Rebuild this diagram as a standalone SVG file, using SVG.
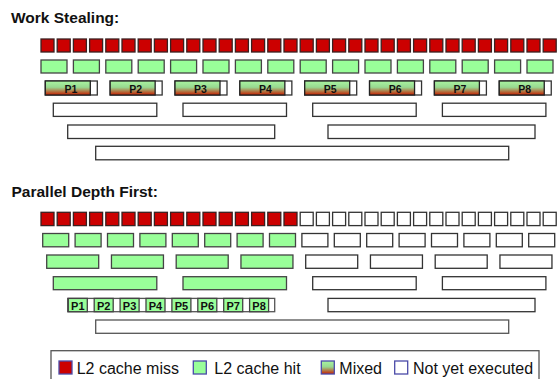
<svg xmlns="http://www.w3.org/2000/svg" width="558" height="379" viewBox="0 0 558 379">
<defs>
<linearGradient id="mixg" x1="0" y1="0" x2="0" y2="1">
<stop offset="0" stop-color="#a8f5a0"/>
<stop offset="0.45" stop-color="#98d890"/>
<stop offset="1" stop-color="#c81e00"/>
</linearGradient>
</defs>
<style>
rect{stroke-width:1.3}
.miss{fill:#cc0000;stroke:#3a2020}
.hit{fill:#99ff99;stroke:#444}
.todo{fill:#fff;stroke:#333}
.mix{fill:url(#mixg);stroke:#222}
.frame{fill:#fff;stroke:#555}
.title{font-family:"Liberation Sans",Arial,sans-serif;font-weight:bold;font-size:15.5px;fill:#111}
.pl{font-family:"Liberation Sans",Arial,sans-serif;font-weight:bold;font-size:10.5px;fill:#111;text-anchor:middle}
.pls{font-family:"Liberation Sans",Arial,sans-serif;font-weight:bold;font-size:11px;fill:#111;text-anchor:middle}
.lg{font-family:"Liberation Sans",Arial,sans-serif;font-size:16px;fill:#111}
.sw{stroke:#4a4aa8;stroke-width:1.3}
</style>
<rect width="558" height="379" fill="#fff" stroke="none"/>

<text class="title" x="11" y="22.7">Work Stealing:</text>
<text class="title" x="11.5" y="197">Parallel Depth First:</text>

<g id="ws">
<g id="ws-l1">
<rect class="miss" x="41" y="39" width="13" height="13"/>
<rect class="miss" x="57.2" y="39" width="13" height="13"/>
<rect class="miss" x="73.4" y="39" width="13" height="13"/>
<rect class="miss" x="89.6" y="39" width="13" height="13"/>
<rect class="miss" x="105.8" y="39" width="13" height="13"/>
<rect class="miss" x="122" y="39" width="13" height="13"/>
<rect class="miss" x="138.2" y="39" width="13" height="13"/>
<rect class="miss" x="154.4" y="39" width="13" height="13"/>
<rect class="miss" x="170.6" y="39" width="13" height="13"/>
<rect class="miss" x="186.8" y="39" width="13" height="13"/>
<rect class="miss" x="203" y="39" width="13" height="13"/>
<rect class="miss" x="219.2" y="39" width="13" height="13"/>
<rect class="miss" x="235.4" y="39" width="13" height="13"/>
<rect class="miss" x="251.6" y="39" width="13" height="13"/>
<rect class="miss" x="267.8" y="39" width="13" height="13"/>
<rect class="miss" x="284" y="39" width="13" height="13"/>
<rect class="miss" x="300.2" y="39" width="13" height="13"/>
<rect class="miss" x="316.4" y="39" width="13" height="13"/>
<rect class="miss" x="332.6" y="39" width="13" height="13"/>
<rect class="miss" x="348.8" y="39" width="13" height="13"/>
<rect class="miss" x="365" y="39" width="13" height="13"/>
<rect class="miss" x="381.2" y="39" width="13" height="13"/>
<rect class="miss" x="397.4" y="39" width="13" height="13"/>
<rect class="miss" x="413.6" y="39" width="13" height="13"/>
<rect class="miss" x="429.8" y="39" width="13" height="13"/>
<rect class="miss" x="446" y="39" width="13" height="13"/>
<rect class="miss" x="462.2" y="39" width="13" height="13"/>
<rect class="miss" x="478.4" y="39" width="13" height="13"/>
<rect class="miss" x="494.6" y="39" width="13" height="13"/>
<rect class="miss" x="510.8" y="39" width="13" height="13"/>
<rect class="miss" x="527" y="39" width="13" height="13"/>
<rect class="miss" x="543.2" y="39" width="13" height="13"/>
</g>
<g id="ws-l2">
<rect class="hit" x="41" y="60" width="26" height="13"/>
<rect class="hit" x="73.4" y="60" width="26" height="13"/>
<rect class="hit" x="105.8" y="60" width="26" height="13"/>
<rect class="hit" x="138.2" y="60" width="26" height="13"/>
<rect class="hit" x="170.6" y="60" width="26" height="13"/>
<rect class="hit" x="203" y="60" width="26" height="13"/>
<rect class="hit" x="235.4" y="60" width="26" height="13"/>
<rect class="hit" x="267.8" y="60" width="26" height="13"/>
<rect class="hit" x="300.2" y="60" width="26" height="13"/>
<rect class="hit" x="332.6" y="60" width="26" height="13"/>
<rect class="hit" x="365" y="60" width="26" height="13"/>
<rect class="hit" x="397.4" y="60" width="26" height="13"/>
<rect class="hit" x="429.8" y="60" width="26" height="13"/>
<rect class="hit" x="462.2" y="60" width="26" height="13"/>
<rect class="hit" x="494.6" y="60" width="26" height="13"/>
<rect class="hit" x="527" y="60" width="26" height="13"/>
</g>
<g id="ws-l3">
<g id="ws-p1"><rect class="todo" x="45.3" y="81" width="52" height="14"/><rect class="mix" x="45.3" y="81" width="45" height="14"/><text class="pl" x="70.8" y="92.5">P1</text></g>
<g id="ws-p2"><rect class="todo" x="110.15" y="81" width="52" height="14"/><rect class="mix" x="110.15" y="81" width="45" height="14"/><text class="pl" x="135.65" y="92.5">P2</text></g>
<g id="ws-p3"><rect class="todo" x="175" y="81" width="52" height="14"/><rect class="mix" x="175" y="81" width="45" height="14"/><text class="pl" x="200.5" y="92.5">P3</text></g>
<g id="ws-p4"><rect class="todo" x="239.85" y="81" width="52" height="14"/><rect class="mix" x="239.85" y="81" width="45" height="14"/><text class="pl" x="265.35" y="92.5">P4</text></g>
<g id="ws-p5"><rect class="todo" x="304.7" y="81" width="52" height="14"/><rect class="mix" x="304.7" y="81" width="45" height="14"/><text class="pl" x="330.2" y="92.5">P5</text></g>
<g id="ws-p6"><rect class="todo" x="369.55" y="81" width="52" height="14"/><rect class="mix" x="369.55" y="81" width="45" height="14"/><text class="pl" x="395.05" y="92.5">P6</text></g>
<g id="ws-p7"><rect class="todo" x="434.4" y="81" width="52" height="14"/><rect class="mix" x="434.4" y="81" width="45" height="14"/><text class="pl" x="459.9" y="92.5">P7</text></g>
<g id="ws-p8"><rect class="todo" x="499.25" y="81" width="52" height="14"/><rect class="mix" x="499.25" y="81" width="45" height="14"/><text class="pl" x="524.75" y="92.5">P8</text></g>
</g>
<g id="ws-l4">
<rect class="todo" x="53.3" y="103.2" width="103.5" height="13.2"/>
<rect class="todo" x="183" y="103.2" width="103.5" height="13.2"/>
<rect class="todo" x="312.7" y="103.2" width="103.5" height="13.2"/>
<rect class="todo" x="442.4" y="103.2" width="103.5" height="13.2"/>
</g>
<g id="ws-l5">
<rect class="todo" x="67.7" y="125" width="207" height="13.5"/>
<rect class="todo" x="328" y="125" width="207" height="13.5"/>
</g>
<g id="ws-l6">
<rect class="todo" x="95.7" y="146.3" width="413" height="13.5"/>
</g>
</g>

<g id="pdf">
<g id="pdf-l1">
<rect class="miss" x="41" y="212.3" width="13" height="13.3"/>
<rect class="miss" x="57.2" y="212.3" width="13" height="13.3"/>
<rect class="miss" x="73.4" y="212.3" width="13" height="13.3"/>
<rect class="miss" x="89.6" y="212.3" width="13" height="13.3"/>
<rect class="miss" x="105.8" y="212.3" width="13" height="13.3"/>
<rect class="miss" x="122" y="212.3" width="13" height="13.3"/>
<rect class="miss" x="138.2" y="212.3" width="13" height="13.3"/>
<rect class="miss" x="154.4" y="212.3" width="13" height="13.3"/>
<rect class="miss" x="170.6" y="212.3" width="13" height="13.3"/>
<rect class="miss" x="186.8" y="212.3" width="13" height="13.3"/>
<rect class="miss" x="203" y="212.3" width="13" height="13.3"/>
<rect class="miss" x="219.2" y="212.3" width="13" height="13.3"/>
<rect class="miss" x="235.4" y="212.3" width="13" height="13.3"/>
<rect class="miss" x="251.6" y="212.3" width="13" height="13.3"/>
<rect class="miss" x="267.8" y="212.3" width="13" height="13.3"/>
<rect class="miss" x="284" y="212.3" width="13" height="13.3"/>
<rect class="todo" x="300.2" y="212.3" width="13" height="13.3"/>
<rect class="todo" x="316.4" y="212.3" width="13" height="13.3"/>
<rect class="todo" x="332.6" y="212.3" width="13" height="13.3"/>
<rect class="todo" x="348.8" y="212.3" width="13" height="13.3"/>
<rect class="todo" x="365" y="212.3" width="13" height="13.3"/>
<rect class="todo" x="381.2" y="212.3" width="13" height="13.3"/>
<rect class="todo" x="397.4" y="212.3" width="13" height="13.3"/>
<rect class="todo" x="413.6" y="212.3" width="13" height="13.3"/>
<rect class="todo" x="429.8" y="212.3" width="13" height="13.3"/>
<rect class="todo" x="446" y="212.3" width="13" height="13.3"/>
<rect class="todo" x="462.2" y="212.3" width="13" height="13.3"/>
<rect class="todo" x="478.4" y="212.3" width="13" height="13.3"/>
<rect class="todo" x="494.6" y="212.3" width="13" height="13.3"/>
<rect class="todo" x="510.8" y="212.3" width="13" height="13.3"/>
<rect class="todo" x="527" y="212.3" width="13" height="13.3"/>
<rect class="todo" x="543.2" y="212.3" width="13" height="13.3"/>
</g>
<g id="pdf-l2">
<rect class="hit" x="42.7" y="233.5" width="26" height="13.3"/>
<rect class="hit" x="75.1" y="233.5" width="26" height="13.3"/>
<rect class="hit" x="107.5" y="233.5" width="26" height="13.3"/>
<rect class="hit" x="139.9" y="233.5" width="26" height="13.3"/>
<rect class="hit" x="172.3" y="233.5" width="26" height="13.3"/>
<rect class="hit" x="204.7" y="233.5" width="26" height="13.3"/>
<rect class="hit" x="237.1" y="233.5" width="26" height="13.3"/>
<rect class="hit" x="269.5" y="233.5" width="26" height="13.3"/>
<rect class="todo" x="301.9" y="233.5" width="26" height="13.3"/>
<rect class="todo" x="334.3" y="233.5" width="26" height="13.3"/>
<rect class="todo" x="366.7" y="233.5" width="26" height="13.3"/>
<rect class="todo" x="399.1" y="233.5" width="26" height="13.3"/>
<rect class="todo" x="431.5" y="233.5" width="26" height="13.3"/>
<rect class="todo" x="463.9" y="233.5" width="26" height="13.3"/>
<rect class="todo" x="496.3" y="233.5" width="26" height="13.3"/>
<rect class="todo" x="528.7" y="233.5" width="26" height="13.3"/>
</g>
<g id="pdf-l3">
<rect class="hit" x="46.7" y="255" width="52" height="13.3"/>
<rect class="hit" x="111.45" y="255" width="52" height="13.3"/>
<rect class="hit" x="176.2" y="255" width="52" height="13.3"/>
<rect class="hit" x="240.95" y="255" width="52" height="13.3"/>
<rect class="todo" x="305.7" y="255" width="52" height="13.3"/>
<rect class="todo" x="370.45" y="255" width="52" height="13.3"/>
<rect class="todo" x="435.2" y="255" width="52" height="13.3"/>
<rect class="todo" x="499.95" y="255" width="52" height="13.3"/>
</g>
<g id="pdf-l4">
<rect class="hit" x="53.3" y="276.7" width="103.5" height="13"/>
<rect class="hit" x="183" y="276.7" width="103.5" height="13"/>
<rect class="todo" x="312.7" y="276.7" width="103.5" height="13"/>
<rect class="todo" x="442.4" y="276.7" width="103.5" height="13"/>
</g>
<g id="pdf-l5">
<rect class="frame" x="67.7" y="298.4" width="207" height="13.3"/>
<g id="pdf-p1"><rect class="hit" x="68.3" y="298.4" width="19" height="13.3"/><text class="pls" x="77.8" y="309.5">P1</text></g>
<g id="pdf-p2"><rect class="hit" x="94.2" y="298.4" width="19" height="13.3"/><text class="pls" x="103.7" y="309.5">P2</text></g>
<g id="pdf-p3"><rect class="hit" x="120.1" y="298.4" width="19" height="13.3"/><text class="pls" x="129.6" y="309.5">P3</text></g>
<g id="pdf-p4"><rect class="hit" x="146" y="298.4" width="19" height="13.3"/><text class="pls" x="155.5" y="309.5">P4</text></g>
<g id="pdf-p5"><rect class="hit" x="171.9" y="298.4" width="19" height="13.3"/><text class="pls" x="181.4" y="309.5">P5</text></g>
<g id="pdf-p6"><rect class="hit" x="197.8" y="298.4" width="19" height="13.3"/><text class="pls" x="207.3" y="309.5">P6</text></g>
<g id="pdf-p7"><rect class="hit" x="223.7" y="298.4" width="19" height="13.3"/><text class="pls" x="233.2" y="309.5">P7</text></g>
<g id="pdf-p8"><rect class="hit" x="249.6" y="298.4" width="19" height="13.3"/><text class="pls" x="259.1" y="309.5">P8</text></g>
<rect class="todo" x="328" y="298.4" width="207" height="13.3"/>
</g>
<g id="pdf-l6">
<rect class="frame" x="95.7" y="320" width="413" height="13.3"/>
</g>
</g>

<g id="legend">
<rect x="51" y="350.7" width="488" height="40" fill="#fff" stroke="#555" stroke-width="1.3"/>
<rect class="sw" x="59" y="361" width="13" height="13" fill="#cc0000"/>
<text class="lg" x="76.7" y="373.6">L2 cache miss</text>
<rect class="sw" x="193.3" y="361" width="13" height="13" fill="#99ff99"/>
<text class="lg" x="214.3" y="373.6">L2 cache hit</text>
<rect class="sw" x="321.3" y="361" width="13" height="13" fill="url(#mixg)"/>
<text class="lg" x="339.3" y="373.6">Mixed</text>
<rect class="sw" x="394.7" y="361" width="13" height="13" fill="#fff"/>
<text class="lg" x="413" y="373.6">Not yet executed</text>
</g>
<g id="connectors"/>
</svg>
